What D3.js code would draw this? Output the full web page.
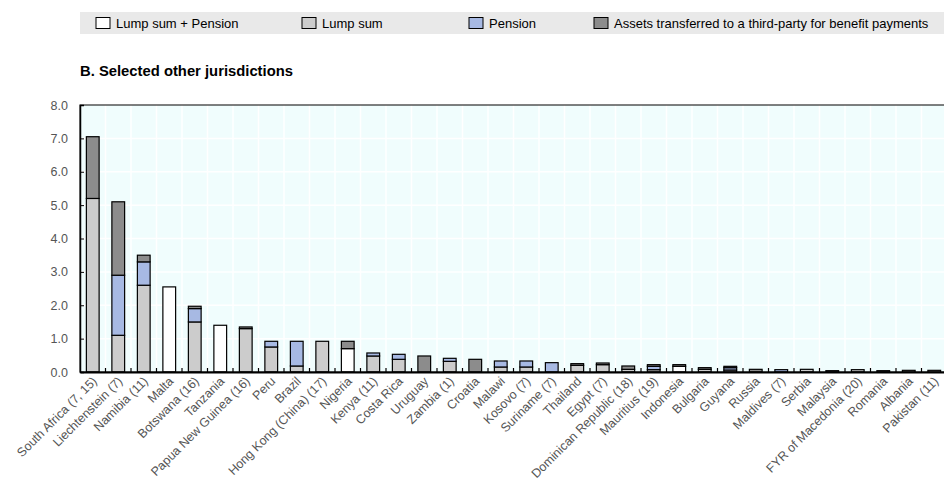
<!DOCTYPE html>
<html><head><meta charset="utf-8">
<script src="https://cdn.jsdelivr.net/npm/d3@7/dist/d3.min.js"></script>
<style>body{margin:0;background:#fff;}svg{display:block;font-family:"Liberation Sans",Arial,sans-serif;}</style>
</head><body><svg id="c" width="944" height="482"></svg>
<script>
const categories = ["South Africa (7, 15)","Liechtenstein (7)","Namibia (11)","Malta","Botswana (16)","Tanzania","Papua New Guinea (16)","Peru","Brazil","Hong Kong (China) (17)","Nigeria","Kenya (11)","Costa Rica","Uruguay","Zambia (1)","Croatia","Malawi","Kosovo (7)","Suriname (7)","Thailand","Egypt (7)","Dominican Republic (18)","Mauritius (19)","Indonesia","Bulgaria","Guyana","Russia","Maldives (7)","Serbia","Malaysia","FYR of Macedonia (20)","Romania","Albania","Pakistan (11)"];
const lumpSumPension = [0,0,0,2.55,0,1.4,0,0,0,0,0.7,0,0,0,0,0,0,0,0,0,0,0,0,0.17,0,0,0,0,0,0,0,0,0,0];
const lumpSum        = [5.2,1.1,2.6,0,1.5,0,1.3,0.75,0.18,0.92,0,0.48,0.38,0,0.32,0,0.15,0.15,0,0.2,0.22,0.08,0.07,0,0.08,0.06,0,0,0.08,0.04,0.07,0.04,0.05,0.05];
const pension        = [0,1.8,0.7,0,0.4,0,0,0.17,0.74,0,0,0.09,0.15,0,0.09,0,0.18,0.18,0.28,0,0,0,0.1,0,0,0.07,0,0.07,0,0,0,0,0,0];
const assets         = [1.85,2.2,0.2,0,0.07,0,0.05,0,0,0,0.22,0,0,0.48,0,0.38,0,0,0,0.05,0.05,0.1,0.05,0.05,0.05,0.04,0.08,0,0,0,0,0,0,0];
const seriesNames = ["Lump sum + Pension","Lump sum","Pension","Assets transferred to a third-party for benefit payments"];
const seriesColors = ["#ffffff","#cccccc","#a7b9e3","#8c8c8c"];
const yTicks = [0,1,2,3,4,5,6,7,8];

const svg = d3.select("#c");
const L = 80, R = 947, T = 105, B = 372;
const x = d3.scaleBand().domain(categories).range([L, R]).paddingInner(0.5).paddingOuter(0.25);
const y = d3.scaleLinear().domain([0, 8]).range([B, T]);

// legend
svg.append("rect").attr("x", 80).attr("y", 12).attr("width", 864).attr("height", 22).attr("fill", "#e9e9e9");
const legX = [96, 302, 469, 594];
seriesNames.forEach((n, i) => {
  svg.append("rect").attr("x", legX[i]).attr("y", 17.5).attr("width", 14).attr("height", 11)
    .attr("fill", seriesColors[i]).attr("stroke", "#000").attr("stroke-width", 1);
  svg.append("text").attr("x", legX[i] + 20).attr("y", 28).attr("font-size", 13).attr("fill", "#000").text(n);
});

// title
svg.append("text").attr("x", 80).attr("y", 76).attr("font-size", 14.8).attr("font-weight", "bold").attr("fill", "#000")
  .text("B. Selected other jurisdictions");

// plot background
svg.append("rect").attr("x", L).attr("y", T).attr("width", R - L).attr("height", B - T).attr("fill", "#f0fdfd");
// grid
svg.append("g").selectAll("line").data(yTicks.slice(1, -1)).join("line")
  .attr("x1", L).attr("x2", R).attr("y1", d => y(d)).attr("y2", d => y(d)).attr("stroke", "#fff").attr("stroke-width", 1.5);
const step = x.step();
const bounds = d3.range(1, categories.length).map(i => L + x.paddingOuter() * step - x.paddingInner() * step / 2 + i * step);
svg.append("g").selectAll("line").data(bounds).join("line")
  .attr("x1", d => d).attr("x2", d => d).attr("y1", T).attr("y2", B).attr("stroke", "#fff").attr("stroke-width", 1.5);

// stacked bars
const data = categories.map((c, i) => ({cat: c, s0: lumpSumPension[i], s1: lumpSum[i], s2: pension[i], s3: assets[i]}));
const stack = d3.stack().keys(["s0", "s1", "s2", "s3"]);
const layers = stack(data);
layers.forEach((layer, li) => {
  svg.append("g").selectAll("rect").data(layer.filter(d => d[1] - d[0] > 0)).join("rect")
    .attr("x", d => x(d.data.cat)).attr("width", x.bandwidth())
    .attr("y", d => y(d[1])).attr("height", d => y(d[0]) - y(d[1]))
    .attr("fill", seriesColors[li]).attr("stroke", "#000").attr("stroke-width", 1.2);
});

// frame
svg.append("rect").attr("x", L).attr("y", T).attr("width", R - L).attr("height", B - T).attr("fill", "none").attr("stroke", "#000").attr("stroke-width", 1);
// y axis
const yAxis = svg.append("g").attr("transform", `translate(${L},0)`)
  .call(d3.axisRight(y).tickValues(yTicks).tickFormat(d3.format(".1f")).tickSize(4));
yAxis.select(".domain").attr("stroke", "#000").attr("stroke-width", 1.5);
yAxis.selectAll(".tick line").attr("stroke", "#000");
yAxis.selectAll(".tick text").attr("x", -12).attr("text-anchor", "end").attr("font-size", 12.5).attr("fill", "#555")
  .attr("font-family", "Liberation Sans, Arial, sans-serif");
// x axis
const xAxis = svg.append("g").attr("transform", `translate(0,${B})`).call(d3.axisBottom(x).tickSize(0).tickFormat(""));
xAxis.select(".domain").attr("stroke", "#000").attr("stroke-width", 2);
svg.append("g").selectAll("line").data(bounds).join("line")
  .attr("x1", d => d).attr("x2", d => d).attr("y1", B - 4).attr("y2", B).attr("stroke", "#000").attr("stroke-width", 1.2);
svg.append("g").selectAll("text").data(categories).join("text")
  .attr("transform", d => `translate(${x(d) + x.bandwidth() / 2 + 5},${B + 10}) rotate(-45)`)
  .attr("text-anchor", "end").attr("font-size", 12.5).attr("fill", "#555").text(d => d);
</script></body></html>
